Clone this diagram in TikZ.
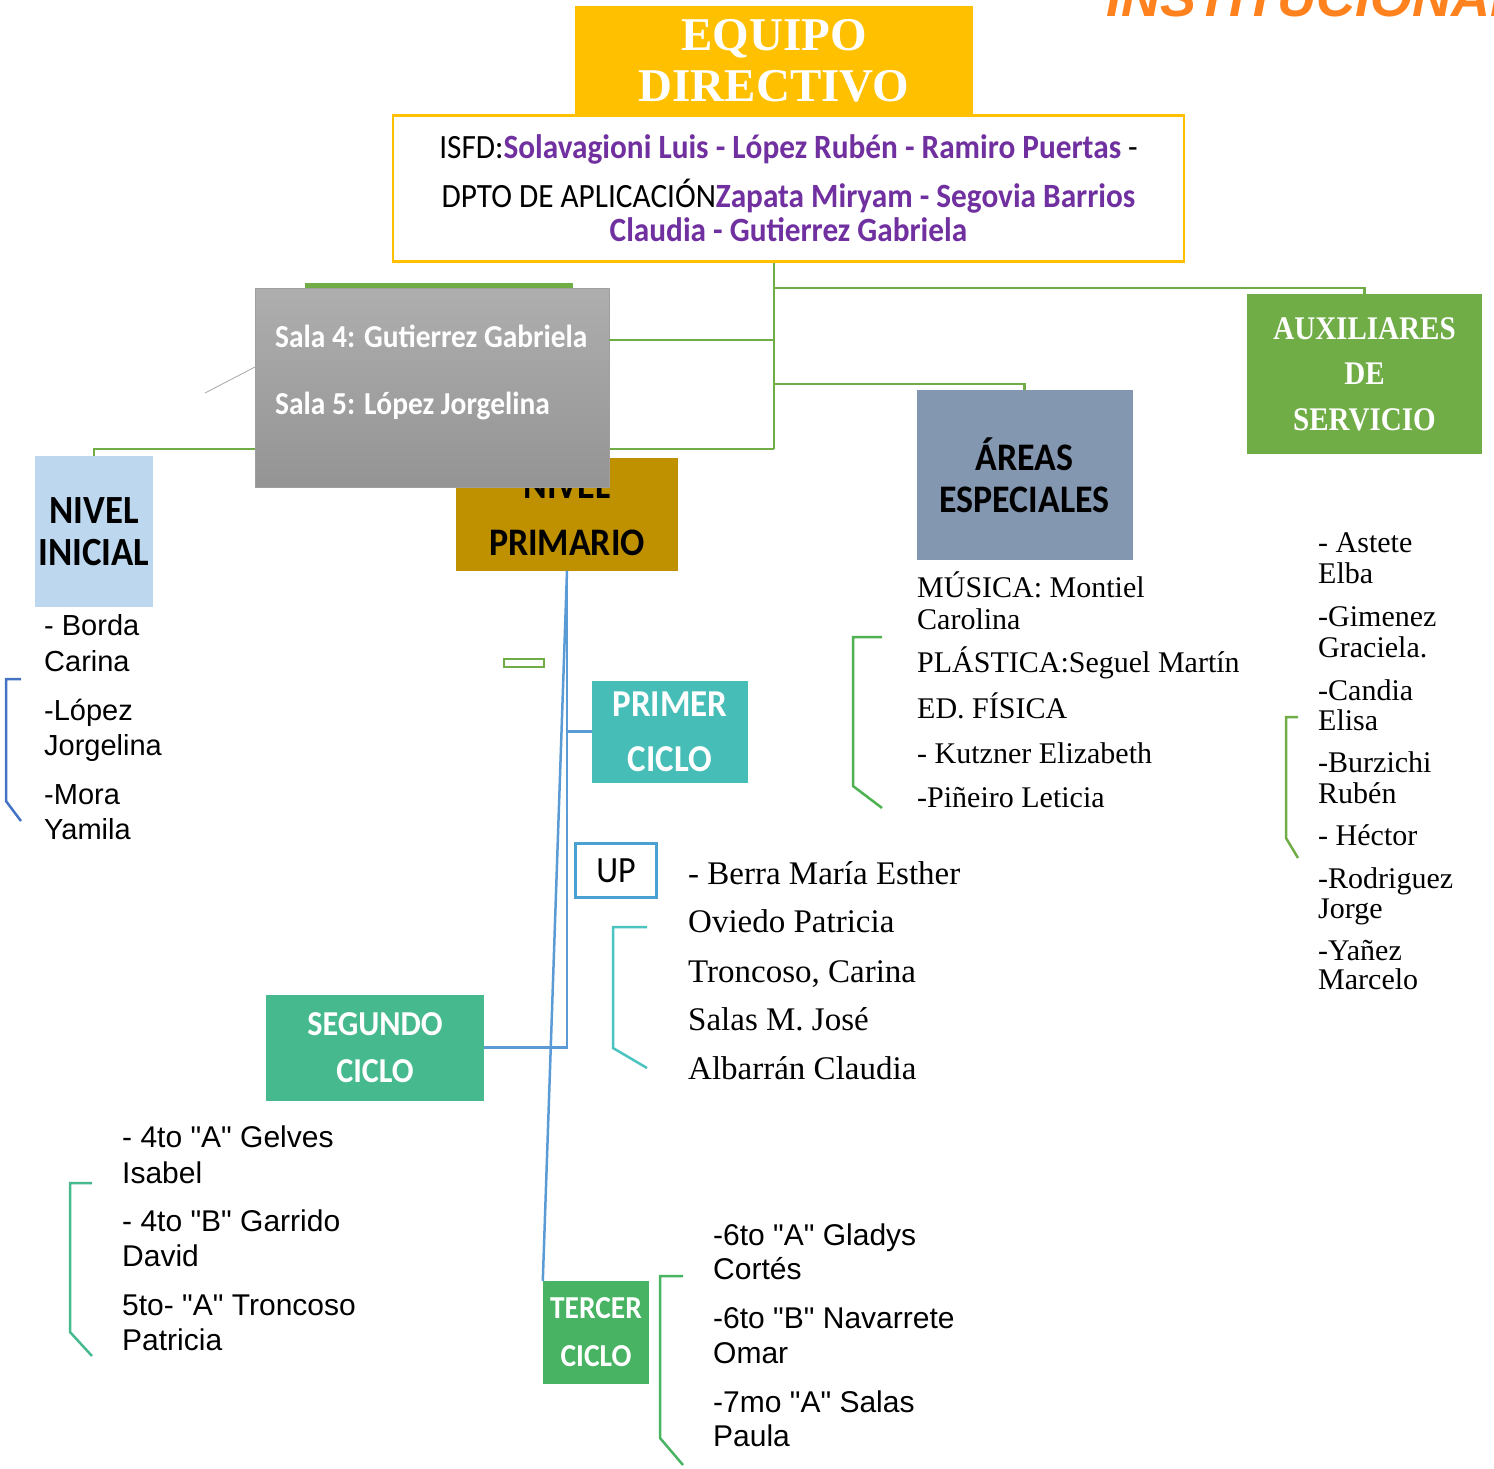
\documentclass[tikz,border=0pt]{standalone}
\usepackage{fontspec}
\setmainfont{Carlito}
\newfontfamily\calib[FakeStretch=0.92]{Carlito}
\newfontfamily\serifl{Liberation Serif}
\newfontfamily\sansl{Liberation Sans}
\newfontfamily\decocond[FakeStretch=0.88]{Liberation Serif}
\usetikzlibrary{positioning}
\usetikzlibrary{calc}

\definecolor{dirgold}{RGB}{255,192,0}
\definecolor{primgold}{RGB}{191,144,0}
\definecolor{inicialblue}{RGB}{189,215,238}
\definecolor{primerteal}{RGB}{70,189,183}
\definecolor{areasgray}{RGB}{132,151,176}
\definecolor{auxgreen}{RGB}{112,173,71}
\definecolor{segmint}{RGB}{70,186,142}
\definecolor{tercgreen}{RGB}{72,180,99}
\definecolor{linkblue}{RGB}{91,155,213}
\definecolor{upblue}{RGB}{75,160,210}
\definecolor{namepurple}{RGB}{112,48,160}
\definecolor{instorange}{RGB}{255,130,30}
\definecolor{salatop}{RGB}{174,174,174}
\definecolor{salabot}{RGB}{148,148,148}
\definecolor{brblue}{RGB}{68,114,196}
\definecolor{brgreen}{RGB}{78,178,80}
\definecolor{brteal}{RGB}{75,196,192}

\tikzset{
  box/.style={rectangle, inner sep=0pt, align=center},
  link/.style={draw=auxgreen, line width=2.5pt},
  bluelink/.style={draw=linkblue, line width=2.5pt},
  listsans/.style={anchor=base west, inner sep=0pt, font=\sansl\fontsize{#1}{#1}\selectfont},
  listserif/.style={anchor=base west, inner sep=0pt, font=\serifl\fontsize{#1}{#1}\selectfont},
}

\begin{document}
\begin{tikzpicture}[x=1pt,y=-1pt]
  \useasboundingbox (0,0) rectangle (1494,1469);

  % title cut off at the top
  \node[anchor=base west, inner sep=0pt, text=instorange,
        font=\sansl\bfseries\itshape\fontsize{54}{54}\selectfont] (inst) at (1106,17) {INSTITUCIONAL};

  % equipo directivo
  \node[box, fill=dirgold, minimum width=398pt, minimum height=109pt, text=white,
        font=\serifl\bfseries\fontsize{47}{51}\selectfont] (equipo) at (774,60.5) {EQUIPO\\DIRECTIVO};
  \node[box, fill=white, draw=dirgold, line width=2.5pt, minimum width=791pt, minimum height=146pt,
        font=\calib\fontsize{34}{34}\selectfont] (isfd) at (788.5,188.5)
        {ISFD:{\bfseries\color{namepurple}Solavagioni Luis - López Rubén - Ramiro Puertas} -\\[14pt]
         DPTO DE APLICACIÓN{\bfseries\color{namepurple}Zapata Miryam - Segovia Barrios}\\
         {\bfseries\color{namepurple}Claudia - Gutierrez Gabriela}};

  % junctions on the green trunk
  \coordinate (j1) at (774,288);
  \coordinate (j2) at (774,340);
  \coordinate (j3) at (774,384);
  \coordinate (j4) at (774,449);

  % right hand boxes
  \node[box, fill=auxgreen, minimum width=235pt, minimum height=160pt, text=white,
        font=\decocond\bfseries\fontsize{33}{45.5}\selectfont] (aux) at (1364.5,374) {AUXILIARES\\DE\\SERVICIO};
  \node[box, fill=areasgray, minimum width=216pt, minimum height=170pt,
        font=\calib\bfseries\fontsize{39}{42}\selectfont] (areas) at (1024.5,475) {ÁREAS\\ESPECIALES};
  \node[box, fill=inicialblue, minimum width=118pt, minimum height=151pt,
        font=\calib\bfseries\fontsize{40}{42}\selectfont] (inicial) at (94,531.5) {NIVEL\\INICIAL};

  \draw[link] (isfd.south -| j1) -- (j4);
  \draw[link] (j1) -| (aux.north);
  \draw[link] (j3) -| (areas.north);
  \draw[link] (j4) -| (inicial.north);
  \fill[auxgreen] (305,283) rectangle (573,295);

  % nivel primario, half hidden by the salas box
  \node[box, fill=primgold, minimum width=222pt, minimum height=113pt,
        font=\calib\bfseries\fontsize{39}{57}\selectfont] (primario) at (567,514) {NIVEL\\PRIMARIO};

  \node[box, top color=salatop, bottom color=salabot, draw=salabot!90, line width=0.8pt,
        minimum width=354pt, minimum height=199pt] (sala) at (432,387.5) {};
  \node[anchor=base west, inner sep=0pt, text=white, font=\calib\bfseries\fontsize{32}{32}\selectfont]
        (sala4) at (275,347) {Sala 4: Gutierrez Gabriela};
  \node[anchor=base west, inner sep=0pt, text=white, font=\calib\bfseries\fontsize{32}{32}\selectfont]
        (sala5) at (275,414) {Sala 5: López Jorgelina};
  \draw[link] (j2) -- (j2 -| sala.east);
  \draw[gray!70, line width=0.8pt] (205,393) -- (255,367);

  % ciclos
  \node[box, fill=primerteal, minimum width=156pt, minimum height=102pt, text=white,
        font=\calib\bfseries\fontsize{38}{55}\selectfont] (primer) at (670,731.5) {PRIMER\\CICLO};
  \node[box, draw=upblue, line width=2.5pt, minimum width=81pt, minimum height=54pt,
        font=\calib\fontsize{37}{37}\selectfont] (up) at (616,870.5) {UP};
  \node[box, fill=segmint, minimum width=218pt, minimum height=106pt, text=white,
        font=\calib\bfseries\fontsize{35}{47}\selectfont] (segundo) at (375,1047.5) {SEGUNDO\\CICLO};
  \node[box, fill=tercgreen, minimum width=106pt, minimum height=103pt, text=white,
        font=\calib\bfseries\fontsize{32}{48}\selectfont] (tercer) at (596,1332.5) {TERCER\\CICLO};

  \draw[bluelink] (primario.south) -- (primario.south |- segundo.east) -- (segundo.east);
  \draw[bluelink] (primario.south |- primer.west) -- (primer.west);
  \draw[bluelink] (primario.south) -- (tercer.north west);
  \draw[auxgreen, line width=2pt] (504,659) rectangle (544,667);

  % lists of names
  \foreach \y/\t [count=\i] in {635/- Borda, 671/Carina, 720/-López, 755/Jorgelina, 804/-Mora, 839/Yamila}
    \node[listsans=29] (ini\i) at (44,\y) {\t};
  \foreach \y/\t [count=\i] in {884/- Berra María Esther, 932/Oviedo Patricia, 982/{Troncoso, Carina},
                                1030/Salas M. José, 1079/Albarrán Claudia}
    \node[listserif=33] (upl\i) at (688,\y) {\t};
  \foreach \y/\t [count=\i] in {597/MÚSICA: Montiel, 629/Carolina, 672/PLÁSTICA:Seguel Martín,
                                718/ED. FÍSICA, 763/- Kutzner Elizabeth, 807/-Piñeiro Leticia}
    \node[listserif=30] (are\i) at (917,\y) {\t};
  \foreach \y/\t [count=\i] in {552/- Astete, 583/Elba, 626/-Gimenez, 657/Graciela., 700/-Candia, 730/Elisa,
                                772/-Burzichi, 803/Rubén, 845/- Héctor, 888/-Rodriguez, 918/Jorge,
                                960/-Yañez, 989/Marcelo}
    \node[listserif=30] (aux\i) at (1318,\y) {\t};
  \foreach \y/\t [count=\i] in {1147/- 4to "A" Gelves, 1183/Isabel, 1231/- 4to "B" Garrido, 1266/David,
                                1315/5to- "A" Troncoso, 1350/Patricia}
    \node[listsans=30] (seg\i) at (122,\y) {\t};
  \foreach \y/\t [count=\i] in {1245/-6to "A" Gladys, 1279/Cortés, 1328/-6to "B" Navarrete, 1363/Omar,
                                1412/-7mo "A" Salas, 1446/Paula}
    \node[listsans=30] (ter\i) at (713,\y) {\t};

  % brackets beside the lists
  \foreach \bx/\btop/\bbot/\bend/\blow/\bcol in {6/679/801/21/821/brblue, 853/637/786/882/808/brgreen,
        1286/717/838/1298/858/auxgreen, 613/927/1048/647/1068/brteal,
        70/1183/1332/92/1356/segmint, 660/1276/1438/683/1465/tercgreen}
    \draw[\bcol, line width=2.5pt] (\bend,\btop) -- (\bx,\btop) -- (\bx,\bbot) -- (\bend,\blow);
\end{tikzpicture}
\end{document}
